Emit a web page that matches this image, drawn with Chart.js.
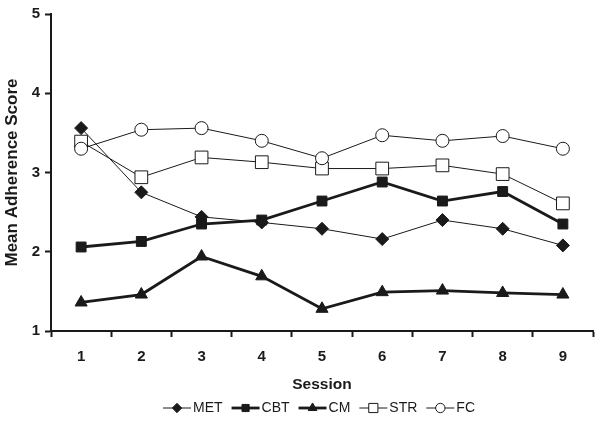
<!DOCTYPE html>
<html><head><meta charset="utf-8">
<script src="https://cdn.jsdelivr.net/npm/chart.js@4/dist/chart.umd.min.js"></script>
<style>html,body{margin:0;padding:0;background:#fff}#wrap{width:603px;height:423px}</style>
</head><body><div id="wrap"><canvas id="c" width="603" height="423"></canvas></div>
<script>
const sessions = ['1','2','3','4','5','6','7','8','9'];
const MET = [3.56, 2.75, 2.44, 2.37, 2.29, 2.16, 2.40, 2.29, 2.08];
const CBT = [2.06, 2.13, 2.35, 2.40, 2.64, 2.88, 2.64, 2.76, 2.35];
const CM  = [1.36, 1.46, 1.94, 1.69, 1.28, 1.49, 1.51, 1.48, 1.46];
const STR = [3.39, 2.94, 3.19, 3.13, 3.05, 3.05, 3.09, 2.98, 2.61];
const FC  = [3.30, 3.54, 3.56, 3.40, 3.18, 3.47, 3.40, 3.46, 3.30];
const yTicks = [1, 2, 3, 4, 5];

const INK = '#1a1a1a';
const font = 'Liberation Sans, Arial, sans-serif';

function ds(label, data, style, radius, lineW, fill, order) {
  return {
    label, data, order,
    borderColor: INK, borderWidth: lineW, backgroundColor: fill,
    pointStyle: style, pointRadius: radius, pointBackgroundColor: fill,
    pointBorderColor: INK, pointBorderWidth: 1, tension: 0,
    legendRadius: radius * 0.72
  };
}
const datasets = [
  ds('MET', MET, 'rectRot', 6.5, 1, INK, 3),
  ds('CBT', CBT, 'rect', 7, 2.8, INK, 2),
  ds('CM', CM, 'triangle', 7, 2.8, INK, 4),
  ds('STR', STR, 'rect', 9, 1, '#fff', 1),
  ds('FC', FC, 'circle', 6.5, 1, '#fff', 0)
];

const lineLegend = {
  id: 'lineLegend',
  afterDraw(chart) {
    const ctx = chart.ctx;
    const iconW = 28, iconGap = 2, itemGap = 9, cy = 408, centerX = 319;
    ctx.save();
    ctx.font = '14px ' + font;
    const items = chart.data.datasets.map(d => ({ d, tw: ctx.measureText(d.label).width }));
    const total = items.reduce((s, it) => s + iconW + iconGap + it.tw, 0) + itemGap * (items.length - 1);
    let x = centerX - total / 2;
    items.forEach(({ d, tw }) => {
      ctx.strokeStyle = INK; ctx.lineWidth = d.borderWidth;
      ctx.beginPath(); ctx.moveTo(x, cy); ctx.lineTo(x + iconW, cy); ctx.stroke();
      ctx.fillStyle = d.pointBackgroundColor; ctx.strokeStyle = INK; ctx.lineWidth = 1;
      Chart.helpers.drawPoint(ctx, { pointStyle: d.pointStyle, radius: d.legendRadius, borderWidth: 1, rotation: 0 }, x + iconW / 2, cy);
      ctx.fillStyle = INK; ctx.textBaseline = 'middle'; ctx.textAlign = 'left';
      ctx.fillText(d.label, x + iconW + iconGap, cy + 0.5);
      x += iconW + iconGap + tw + itemGap;
    });
    ctx.restore();
  }
};

new Chart(document.getElementById('c'), {
  type: 'line',
  data: { labels: sessions, datasets },
  plugins: [lineLegend],
  options: {
    responsive: false, animation: false,
    layout: { padding: { top: 11, right: 7, left: 0, bottom: 29 } },
    plugins: { tooltip: { enabled: false }, legend: { display: false } },
    scales: {
      x: {
        offset: true,
        grid: { display: true, drawOnChartArea: false, offset: true, drawTicks: true, tickLength: 6, tickWidth: 2, tickColor: INK },
        border: { display: true, color: INK, width: 2 },
        ticks: { color: INK, font: { family: font, size: 15, weight: 'bold' }, padding: 11 },
        title: { display: true, text: 'Session', color: INK, font: { family: font, size: 15.5, weight: 'bold' }, padding: { top: 0, bottom: 0 } },
        afterFit(s) { s.height = 63; }
      },
      y: {
        min: 1, max: 5,
        afterBuildTicks(s) { s.ticks = yTicks.map(v => ({ value: v })); },
        grid: { display: true, drawOnChartArea: false, drawTicks: true, tickLength: 6, tickWidth: 2, tickColor: INK },
        border: { display: true, color: INK, width: 2 },
        ticks: { color: INK, font: { family: font, size: 15, weight: 'bold' }, padding: 5 },
        title: { display: true, text: 'Mean Adherence Score', color: INK, font: { family: font, size: 17, weight: 'bold' }, padding: { top: 2, bottom: 0 } },
        afterFit(s) { s.width = 51; }
      }
    }
  }
});
</script></body></html>
